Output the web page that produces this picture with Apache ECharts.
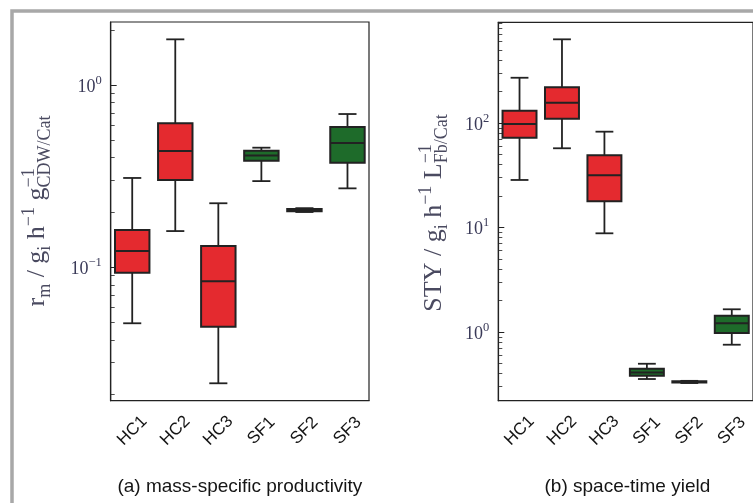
<!DOCTYPE html>
<html>
<head>
<meta charset="utf-8">
<script src="https://cdn.jsdelivr.net/npm/echarts@6/dist/echarts.min.js"></script>
<style>
  html, body { margin: 0; padding: 0; background: #fff; }
  #main { width: 753px; height: 503px; }
</style>
</head>
<body>
<div id="main"></div>
<script>
const categories = ['HC1', 'HC2', 'HC3', 'SF1', 'SF2', 'SF3'];

// each row: [min, q1, median, q3, max]
const productivity = [
  [0.0493, 0.0934, 0.123, 0.160, 0.309],
  [0.158, 0.301, 0.435, 0.616, 1.78],
  [0.0231, 0.0472, 0.0838, 0.131, 0.2245],
  [0.297, 0.384, 0.411, 0.436, 0.453],
  [0.201, 0.203, 0.206, 0.209, 0.211],
  [0.271, 0.375, 0.481, 0.589, 0.693]
];
const spaceTime = [
  [28.5, 72.3, 97.8, 131, 271],
  [57.3, 110, 156, 220, 632],
  [8.80, 17.8, 31.6, 49.1, 82.6],
  [0.355, 0.382, 0.411, 0.445, 0.497],
  [0.325, 0.328, 0.333, 0.338, 0.341],
  [0.756, 0.978, 1.21, 1.43, 1.65]
];

const ticksA = [0.1, 1];
const ticksB = [1, 10, 100];
const minorA = [0.02, 0.03, 0.04, 0.05, 0.06, 0.07, 0.08, 0.09,
  0.2, 0.3, 0.4, 0.5, 0.6, 0.7, 0.8, 0.9, 2];
const minorB = [0.3, 0.4, 0.5, 0.6, 0.7, 0.8, 0.9,
  2, 3, 4, 5, 6, 7, 8, 9, 20, 30, 40, 50, 60, 70, 80, 90,
  200, 300, 400, 500, 600, 700, 800, 900];

const RED = '#e42a2f';
const GREEN = '#1e6b2a';
const INK = '#222';
const LABEL = '#3a3a58';
const SERIF = '"Liberation Serif", "DejaVu Serif", serif';
const SANS = '"Liberation Sans", Arial, sans-serif';

let myChart = echarts.init(document.getElementById('main'));

// box + whiskers drawn on the axes' own coordinates
function renderBox(params, api) {
  const i = api.value(0);
  const pMin = api.coord([i, api.value(1)]);
  const pQ1 = api.coord([i, api.value(2)]);
  const pMed = api.coord([i, api.value(3)]);
  const pQ3 = api.coord([i, api.value(4)]);
  const pMax = api.coord([i, api.value(5)]);
  const band = api.size([1, 1])[0];
  const half = band * 0.4;
  const cap = band * 0.21;
  const x = pMed[0];
  const fill = categories[i].indexOf('HC') === 0 ? RED : GREEN;
  const line = { stroke: INK, lineWidth: 1.8 };
  return {
    type: 'group',
    children: [
      { type: 'line', shape: { x1: x, y1: pMax[1], x2: x, y2: pQ3[1] }, style: line },
      { type: 'line', shape: { x1: x, y1: pQ1[1], x2: x, y2: pMin[1] }, style: line },
      { type: 'line', shape: { x1: x - cap, y1: pMax[1], x2: x + cap, y2: pMax[1] }, style: line },
      { type: 'line', shape: { x1: x - cap, y1: pMin[1], x2: x + cap, y2: pMin[1] }, style: line },
      { type: 'rect', shape: { x: x - half, y: pQ3[1], width: 2 * half, height: pQ1[1] - pQ3[1] },
        style: { fill: fill, stroke: INK, lineWidth: 2 } },
      { type: 'line', shape: { x1: x - half, y1: pMed[1], x2: x + half, y2: pMed[1] },
        style: { stroke: INK, lineWidth: 2 } }
    ]
  };
}

// rotated axis title with sub/superscripts
const measureCtx = document.createElement('canvas').getContext('2d');
function mathTitle(pieces, cx, cy, size) {
  const small = Math.round(size * 0.7);
  const base = 0.3 * size;
  const dy = {
    n: 0,
    sub: base + 0.2 * size - 0.3 * small,
    sup: base - 0.4 * size - 0.3 * small
  };
  let x = 0, hold = null;
  const items = [];
  pieces.forEach(p => {
    const fs = p.k === 'n' ? size : small;
    measureCtx.font = fs + 'px "Liberation Serif"';
    const w = measureCtx.measureText(p.t).width;
    const start = hold ? hold.x : x;
    items.push({ t: p.t, x: start, fs: fs, k: p.k });
    if (p.stack) { hold = { x: start, w: w }; x = start + w; }
    else if (hold) { x = start + Math.max(w, hold.w); hold = null; }
    else { x = start + w; }
  });
  const total = x;
  return {
    type: 'group',
    x: cx - base,
    y: cy,
    rotation: Math.PI / 2,
    children: items.map(it => ({
      type: 'text',
      x: it.x - total / 2,
      y: dy[it.k],
      style: {
        text: it.t,
        font: it.fs + 'px ' + SERIF,
        fill: '#4a4a60',
        textAlign: 'left',
        textVerticalAlign: 'middle'
      }
    }))
  };
}

function powLabel(v) {
  const e = String(Math.round(Math.log10(v))).replace('-', '\u2212');
  return '{b|10}{s|' + e + '}';
}

const yLabel = {
  margin: 9,
  fontSize: 18,
  fontFamily: SERIF,
  color: LABEL,
  formatter: powLabel,
  rich: {
    b: { fontSize: 18, lineHeight: 22, verticalAlign: 'bottom', fontFamily: SERIF, color: LABEL },
    s: { fontSize: 12.5, lineHeight: 12, verticalAlign: 'top', fontFamily: SERIF, color: LABEL }
  }
};

function xAxisFor(idx) {
  return {
    type: 'category',
    gridIndex: idx,
    data: categories,
    axisLine: { lineStyle: { color: INK, width: 1.2 } },
    axisTick: { inside: true, alignWithLabel: true, length: 5, lineStyle: { color: INK, width: 1.2 } },
    axisLabel: {
      interval: 0, rotate: 45, align: 'center', verticalAlign: 'middle', margin: 30,
      fontFamily: SANS, fontSize: 17, color: '#151515'
    },
    splitLine: { show: false }
  };
}

function yAxesFor(idx, lo, hi, major, minor) {
  return [{
    type: 'log',
    logBase: 10,
    gridIndex: idx,
    position: 'left',
    min: lo,
    max: hi,
    axisLine: { show: true, lineStyle: { color: INK, width: 1.2 } },
    axisTick: { show: true, inside: true, length: 6, customValues: major, lineStyle: { color: INK, width: 1 } },
    axisLabel: Object.assign({ customValues: major }, yLabel),
    splitLine: { show: false }
  }, {
    type: 'log',
    logBase: 10,
    gridIndex: idx,
    position: 'left',
    offset: 0,
    min: lo,
    max: hi,
    axisLine: { show: false },
    axisTick: { show: true, inside: true, length: 4, customValues: minor, lineStyle: { color: INK, width: 0.8 } },
    axisLabel: { show: false },
    splitLine: { show: false }
  }];
}

let opt = {
  backgroundColor: '#fff',
  animation: false,
  grid: [
    { left: 110.7, top: 22, width: 258.3, height: 378.7, show: true, borderColor: INK, borderWidth: 1.2 },
    { left: 498.3, top: 22.3, width: 258.3, height: 378.4, show: true, borderColor: INK, borderWidth: 1.2 }
  ],
  xAxis: [xAxisFor(0), xAxisFor(1)],
  yAxis: yAxesFor(0, 0.01854, 2.216, ticksA, minorA)
    .concat(yAxesFor(1, 0.2202, 919.5, ticksB, minorB)),
  series: [{
    type: 'custom',
    xAxisIndex: 0,
    yAxisIndex: 0,
    renderItem: renderBox,
    encode: { x: 0, y: [1, 2, 3, 4, 5] },
    data: productivity.map((d, i) => [i].concat(d))
  }, {
    type: 'custom',
    xAxisIndex: 1,
    yAxisIndex: 2,
    renderItem: renderBox,
    encode: { x: 0, y: [1, 2, 3, 4, 5] },
    data: spaceTime.map((d, i) => [i].concat(d))
  }],
  graphic: [
    // grey page frame
    { type: 'rect', shape: { x: 12, y: 11, width: 800, height: 600 },
      style: { fill: 'none', stroke: '#a8a8a8', lineWidth: 3.5 }, silent: true },
    mathTitle([
      { t: 'r', k: 'n' }, { t: 'm', k: 'sub' }, { t: ' / g', k: 'n' }, { t: 'i', k: 'sub' },
      { t: ' h', k: 'n' }, { t: '\u22121', k: 'sup' }, { t: ' g', k: 'n' },
      { t: '\u22121', k: 'sup', stack: true }, { t: 'CDW/Cat', k: 'sub' }
    ], 45, 211, 26),
    mathTitle([
      { t: 'STY / g', k: 'n' }, { t: 'i', k: 'sub' },
      { t: ' h', k: 'n' }, { t: '\u22121', k: 'sup' }, { t: ' L', k: 'n' },
      { t: '\u22121', k: 'sup', stack: true }, { t: 'Fb/Cat', k: 'sub' }
    ], 442, 213, 26),
    { type: 'text', x: 239.9, y: 487,
      style: { text: '(a) mass-specific productivity', font: '19px ' + SANS, fill: '#151515',
        textAlign: 'center', textVerticalAlign: 'middle' } },
    { type: 'text', x: 627.4, y: 487,
      style: { text: '(b) space-time yield', font: '19px ' + SANS, fill: '#151515',
        textAlign: 'center', textVerticalAlign: 'middle' } }
  ]
};

myChart.setOption(opt);
</script>
</body>
</html>
